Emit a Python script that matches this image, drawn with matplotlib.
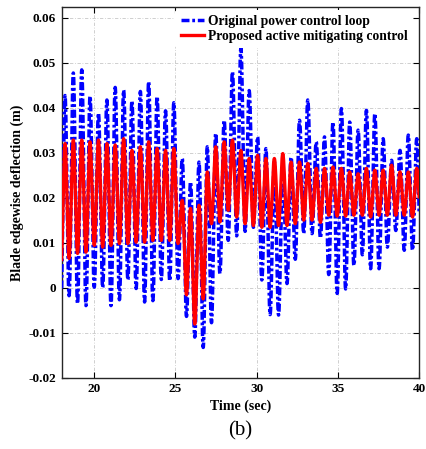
import numpy as np
import matplotlib
matplotlib.use("Agg")
import matplotlib.pyplot as plt

# ---- data ----
peak_times = [18.20, 18.71, 19.23, 19.74, 20.26, 20.78, 21.29, 21.81, 22.32, 22.84,
              23.35, 23.87, 24.39, 24.90, 25.42, 25.93, 26.45, 26.96, 27.48, 28.00,
              28.51, 29.03, 29.54, 30.06, 30.57, 31.09, 31.61, 32.12, 32.64, 33.15,
              33.67, 34.18, 34.70, 35.22, 35.73, 36.25, 36.76, 37.28, 37.79, 38.31,
              38.83, 39.34, 39.86]
trough_times = [17.94, 18.45, 18.97, 19.49, 20.00, 20.52, 21.03, 21.55, 22.07, 22.58,
                23.10, 23.61, 24.13, 24.65, 25.16, 25.68, 26.19, 26.71, 27.22, 27.74,
                28.25, 28.77, 29.29, 29.80, 30.32, 30.83, 31.35, 31.87, 32.38, 32.90,
                33.41, 33.93, 34.44, 34.96, 35.48, 35.99, 36.51, 37.02, 37.54, 38.05,
                38.57, 39.09, 39.60, 40.12]

orig_peaks = [0.0427, 0.0477, 0.0484, 0.0426, 0.0388, 0.0417, 0.0445, 0.0439, 0.0415, 0.0436,
              0.0458, 0.0425, 0.0393, 0.0411, 0.0287, 0.0235, 0.0279, 0.0313, 0.0343, 0.0372,
              0.0480, 0.0532, 0.0438, 0.0335, 0.0309, 0.0280, 0.0270, 0.0290, 0.0372, 0.0417,
              0.0324, 0.0335, 0.0368, 0.0398, 0.0368, 0.0350, 0.0394, 0.0387, 0.0331, 0.0283,
              0.0305, 0.0339, 0.0331]
orig_troughs = [-0.0047, -0.0018, -0.0036, -0.0040, 0.0001, 0.0000, -0.0040, -0.0027, 0.0017, -0.0002,
                -0.0032, -0.0029, 0.0018, 0.0015, 0.0020, -0.0064, -0.0110, -0.0133, -0.0078, 0.0031,
                0.0105, 0.0115, 0.0125, 0.0134, 0.0017, -0.0060, -0.0061, 0.0009, 0.0063, 0.0120,
                0.0120, 0.0110, 0.0029, -0.0013, -0.0003, 0.0049, 0.0073, 0.0042, 0.0042, 0.0090,
                0.0127, 0.0083, 0.0083, 0.0060]

prop_peaks = [0.0320, 0.0328, 0.0328, 0.0324, 0.0328, 0.0320, 0.0317, 0.0331, 0.0305, 0.0313,
              0.0324, 0.0309, 0.0305, 0.0309, 0.0194, 0.0176, 0.0183, 0.0257, 0.0313, 0.0324,
              0.0328, 0.0305, 0.0287, 0.0294, 0.0287, 0.0287, 0.0298, 0.0279, 0.0279, 0.0276,
              0.0265, 0.0265, 0.0268, 0.0265, 0.0257, 0.0253, 0.0265, 0.0261, 0.0261, 0.0272,
              0.0257, 0.0257, 0.0265]
prop_troughs = [0.0035, 0.0065, 0.0076, 0.0079, 0.0094, 0.0090, 0.0094, 0.0098, 0.0098, 0.0101,
                0.0101, 0.0105, 0.0105, 0.0105, 0.0098, -0.0016, -0.0081, -0.0025, 0.0142, 0.0146,
                0.0172, 0.0157, 0.0142, 0.0138, 0.0134, 0.0134, 0.0138, 0.0138, 0.0142, 0.0150,
                0.0150, 0.0145, 0.0161, 0.0159, 0.0159, 0.0161, 0.0161, 0.0157, 0.0161, 0.0161,
                0.0161, 0.0161, 0.0157, 0.0160]

series_labels = ["Original power control loop", "Proposed active mitigating control"]
x_ticks = [20, 25, 30, 35, 40]
y_ticks = [-0.02, -0.01, 0, 0.01, 0.02, 0.03, 0.04, 0.05, 0.06]
y_ticklabels = ["-0.02", "-0.01", "0", "0.01", "0.02", "0.03", "0.04", "0.05", "0.06"]


def smooth_through(tt, pt, tv, pv, n=30):
    """Join alternating extrema (trough, peak, trough, ...) with half-cosine arcs."""
    et, ev = [], []
    for i in range(len(tt)):
        et.append(tt[i]); ev.append(tv[i])
        if i < len(pt):
            et.append(pt[i]); ev.append(pv[i])
    xs, ys = [], []
    for i in range(len(et) - 1):
        s = np.linspace(0, 1, n, endpoint=False)
        xs.append(et[i] + (et[i + 1] - et[i]) * s)
        ys.append(ev[i] + (ev[i + 1] - ev[i]) * (1 - np.cos(np.pi * s)) / 2)
    xs.append([et[-1]]); ys.append([ev[-1]])
    return np.concatenate(xs), np.concatenate(ys)


plt.rcParams['font.family'] = ['Liberation Serif', 'DejaVu Serif']
plt.rcParams['mathtext.fontset'] = 'stix'

fig = plt.figure(figsize=(4.26, 4.49), dpi=100)
ax = fig.add_axes([0.145, 0.159, 0.8386, 0.8247])

xb, yb = smooth_through(trough_times, peak_times, orig_troughs, orig_peaks)
xr, yr = smooth_through(trough_times, peak_times, prop_troughs, prop_peaks)

lb, = ax.plot(xb, yb, color='#0000ff', lw=2.5, linestyle=(0, (2.3, 0.8, 0.8, 0.8)),
              label=series_labels[0], zorder=3)
lr, = ax.plot(xr, yr, color='#ff0000', lw=2.4, label=series_labels[1], zorder=4)

ax.set_xlim(18, 40)
ax.set_ylim(-0.02, 0.0623)
ax.set_xticks(x_ticks)
ax.set_yticks(y_ticks)
ax.set_yticklabels(y_ticklabels)
ax.grid(True, color='#c8c8c8', linestyle=(0, (4, 2, 1, 2)), linewidth=0.6, zorder=0)
ax.tick_params(direction='in', top=True, right=True, length=4, width=0.8,
               labelsize=9.5, pad=4)
for lab in ax.get_xticklabels() + ax.get_yticklabels():
    lab.set_fontweight('bold')
for sp in ax.spines.values():
    sp.set_linewidth(1.0)
    sp.set_color('#262626')

ax.set_xlabel("Time (sec)", fontsize=10, fontweight='bold', labelpad=3)
ax.set_ylabel("Blade edgewise deflection (m)", fontsize=10, fontweight='bold', labelpad=3)

leg = ax.legend(loc='upper right', bbox_to_anchor=(0.995, 1.005), frameon=True,
                prop={'weight': 'bold', 'size': 9.8}, handlelength=1.7,
                handletextpad=0.3, borderaxespad=0.3, labelspacing=0.15)
leg.get_frame().set_facecolor('white')
leg.get_frame().set_edgecolor('none')
leg.get_frame().set_alpha(1.0)

fig.text(0.5635, 0.040, "(b)", ha='center', va='center', fontsize=15)

fig.savefig("out.png", dpi=100)
